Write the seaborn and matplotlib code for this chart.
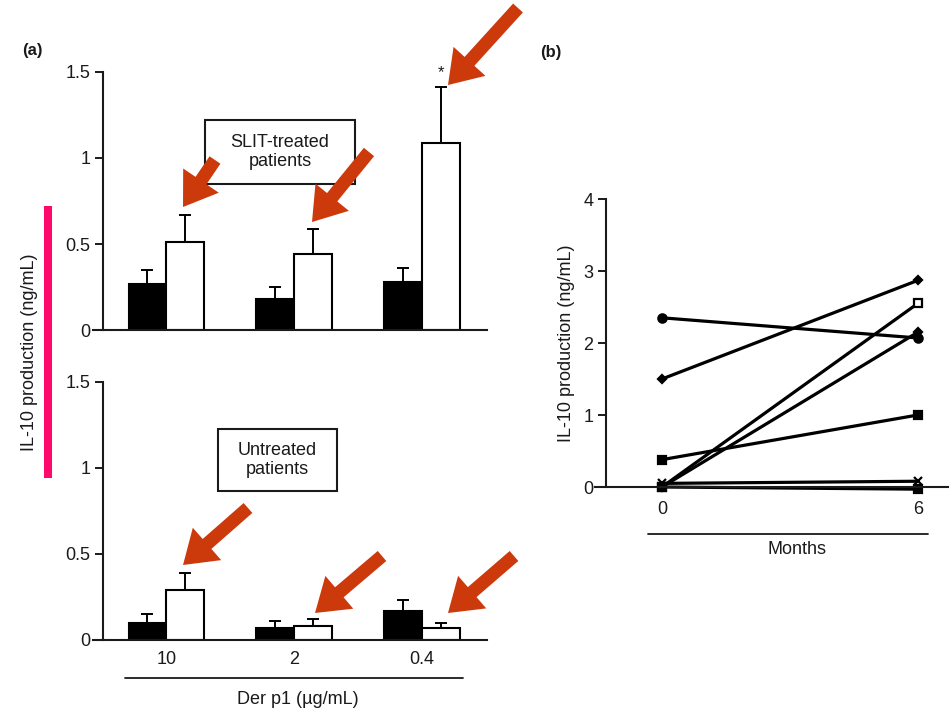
"""IL-10 production before/after SLIT: bar panels (a) and patient trajectories (b)."""

import matplotlib
matplotlib.use("Agg")
import matplotlib.pyplot as plt
import numpy as np
import pandas as pd
import seaborn as sns
from matplotlib.lines import Line2D
from matplotlib.patches import FancyArrowPatch, Rectangle, ArrowStyle

# ---- data ----
DOSES = ["10", "2", "0.4"]
PERIODS = ["Before", "After"]
SLIT_BEFORE = [0.27, 0.18, 0.28]
SLIT_BEFORE_ERR = [0.08, 0.07, 0.08]
SLIT_AFTER = [0.51, 0.44, 1.09]
SLIT_AFTER_ERR = [0.16, 0.15, 0.32]
UNTR_BEFORE = [0.10, 0.07, 0.17]
UNTR_BEFORE_ERR = [0.05, 0.04, 0.06]
UNTR_AFTER = [0.29, 0.08, 0.07]
UNTR_AFTER_ERR = [0.10, 0.04, 0.03]

MONTHS = [0, 6]
PATIENT_VALUES = [
    [2.35, 2.07],
    [1.50, 2.87],
    [0.38, 1.00],
    [0.00, 2.55],
    [0.00, 2.15],
    [0.05, 0.08],
    [0.00, -0.03],
]
PATIENT_MARKERS = ["o", "D", "s", "s", "D", "x", "s"]
PATIENT_FILLED = [True, True, True, False, True, True, True]

W, H = 949, 713
RED = "#cc3a0c"
INK = "#1a1a1a"


def fx(px):
    return px / W


def fy(py):
    return 1 - py / H


def bar_frame(before, after):
    return pd.DataFrame({
        "dose": DOSES * 2,
        "period": [PERIODS[0]] * 3 + [PERIODS[1]] * 3,
        "value": list(before) + list(after),
    })


def draw_bars(ax, before, after, before_err, after_err, show_xlabels):
    df = bar_frame(before, after)
    sns.barplot(data=df, x="dose", y="value", hue="period", order=DOSES, hue_order=PERIODS,
                palette=["black", "white"], edgecolor="black", linewidth=1.5, width=0.59,
                errorbar=None, legend=False, ax=ax)
    for container, errs in zip(ax.containers, [before_err, after_err]):
        for bar, err in zip(container, errs):
            xc = bar.get_x() + bar.get_width() / 2
            h = bar.get_height()
            ax.errorbar(xc, h, yerr=[[0], [err]], color="black", elinewidth=1.4,
                        capsize=4.5, capthick=1.4, clip_on=False)
    ax.set_xlim(-0.573, 2.51)
    ax.set_ylim(0, 1.5)
    ax.set_yticks([0, 0.5, 1, 1.5])
    ax.set_yticklabels(["0", "0.5", "1", "1.5"])
    ax.set_xlabel("")
    ax.set_ylabel("")
    sns.despine(ax=ax)
    ax.spines["left"].set_position(("axes", 0.025))
    ax.spines["left"].set_bounds(0, 1.5)
    for s in ["left", "bottom"]:
        ax.spines[s].set_linewidth(1.5)
        ax.spines[s].set_color(INK)
    ax.tick_params(axis="y", length=6, width=1.4, labelsize=13, colors=INK, pad=3)
    if show_xlabels:
        ax.tick_params(axis="x", length=0, labelsize=13, colors=INK, pad=8)
    else:
        ax.tick_params(axis="x", length=0, labelbottom=False)


def red_arrow(fig, tail, tip):
    arr = FancyArrowPatch((fx(tail[0]), fy(tail[1])), (fx(tip[0]), fy(tip[1])),
                          transform=fig.transFigure,
                          arrowstyle=ArrowStyle.Simple(head_length=23, head_width=31, tail_width=9.5),
                          mutation_scale=1, color=RED, lw=0, shrinkA=0, shrinkB=0)
    fig.add_artist(arr)


def label_box(fig, x0, y0, x1, y1, text):
    fig.add_artist(Rectangle((fx(x0), fy(y1)), fx(x1 - x0), (y1 - y0) / H, transform=fig.transFigure,
                             facecolor="white", edgecolor=INK, linewidth=1.5))
    fig.text(fx((x0 + x1) / 2), fy((y0 + y1) / 2), text, ha="center", va="center",
             fontsize=13, color=INK, linespacing=1.15)


def main():
    sns.set_theme(style="ticks")
    plt.rcParams["font.family"] = ["Liberation Sans", "DejaVu Sans"]

    fig = plt.figure(figsize=(W / 100, H / 100), dpi=100)
    fig.patch.set_facecolor("white")

    ax_top = fig.add_axes([fx(93), fy(330), (487 - 93) / W, 258 / H])
    ax_bot = fig.add_axes([fx(93), fy(640), (487 - 93) / W, 258 / H])
    ax_b = fig.add_axes([fx(595), fy(487), (949 - 595) / W, 288 / H])
    for a in (ax_top, ax_bot, ax_b):
        a.set_facecolor("white")
        a.patch.set_alpha(0)

    draw_bars(ax_top, SLIT_BEFORE, SLIT_AFTER, SLIT_BEFORE_ERR, SLIT_AFTER_ERR, False)
    draw_bars(ax_bot, UNTR_BEFORE, UNTR_AFTER, UNTR_BEFORE_ERR, UNTR_AFTER_ERR, True)

    # significance marker over the 0.4 SLIT bar
    last = ax_top.containers[1][2]
    ax_top.text(last.get_x() + last.get_width() / 2, SLIT_AFTER[2] + SLIT_AFTER_ERR[2] + 0.04, "*",
                ha="center", va="bottom", fontsize=12, color=INK, clip_on=False)

    # panel b: individual patients
    for vals, mk, filled in zip(PATIENT_VALUES, PATIENT_MARKERS, PATIENT_FILLED):
        ms = 4.5 if mk == "D" else 6
        sns.lineplot(x=MONTHS, y=vals, color="black", linewidth=2.3, marker=mk, markersize=ms,
                     markerfacecolor="black" if filled else "white", markeredgecolor="black",
                     markeredgewidth=1.6, ax=ax_b, clip_on=False)
    ax_b.set_xlim(-1.57, 6.73)
    ax_b.set_ylim(0, 4)
    ax_b.set_xticks(MONTHS)
    ax_b.set_yticks([0, 1, 2, 3, 4])
    sns.despine(ax=ax_b)
    ax_b.spines["left"].set_position(("axes", 0.031))
    ax_b.spines["left"].set_bounds(0, 4)
    for s in ["left", "bottom"]:
        ax_b.spines[s].set_linewidth(1.5)
        ax_b.spines[s].set_color(INK)
    ax_b.tick_params(axis="y", length=6, width=1.4, labelsize=13, colors=INK, pad=3)
    ax_b.tick_params(axis="x", length=0, labelsize=13, colors=INK, pad=10)
    ax_b.set_ylabel("IL-10 production (ng/mL)", fontsize=13, color=INK, labelpad=6)

    # shared y label for panel a
    fig.text(fx(30), fy(352), "IL-10 production (ng/mL)", rotation=90, ha="center", va="center",
             fontsize=13, color=INK)

    # x titles with rules
    fig.add_artist(Line2D([fx(125), fx(463)], [fy(678), fy(678)], transform=fig.transFigure,
                          color=INK, lw=1.3))
    fig.text(fx(298), fy(700), "Der p1 (\u00b5g/mL)", ha="center", va="center", fontsize=13, color=INK)
    fig.add_artist(Line2D([fx(648), fx(928)], [fy(534), fy(534)], transform=fig.transFigure,
                          color=INK, lw=1.3))
    fig.text(fx(797), fy(550), "Months", ha="center", va="center", fontsize=13, color=INK)

    fig.text(fx(32), fy(50), "(a)", ha="center", va="center", fontsize=12, fontweight="bold", color=INK)
    fig.text(fx(551), fy(52), "(b)", ha="center", va="center", fontsize=12, fontweight="bold", color=INK)

    label_box(fig, 205, 120, 355, 184, "SLIT-treated\npatients")
    label_box(fig, 218, 429, 337, 491, "Untreated\npatients")

    # highlight annotations
    fig.add_artist(Rectangle((fx(44), fy(478)), 8 / W, (478 - 206) / H, transform=fig.transFigure,
                             facecolor="#ff0a6c", edgecolor="none"))
    red_arrow(fig, (215, 160), (183, 207))
    red_arrow(fig, (369, 152), (312, 222))
    red_arrow(fig, (518, 8), (448, 85))
    red_arrow(fig, (248, 508), (183, 565))
    red_arrow(fig, (382, 556), (315, 613))
    red_arrow(fig, (514, 556), (448, 613))

    fig.savefig("out.png", dpi=100, facecolor="white")
    plt.close(fig)


if __name__ == "__main__":
    main()
